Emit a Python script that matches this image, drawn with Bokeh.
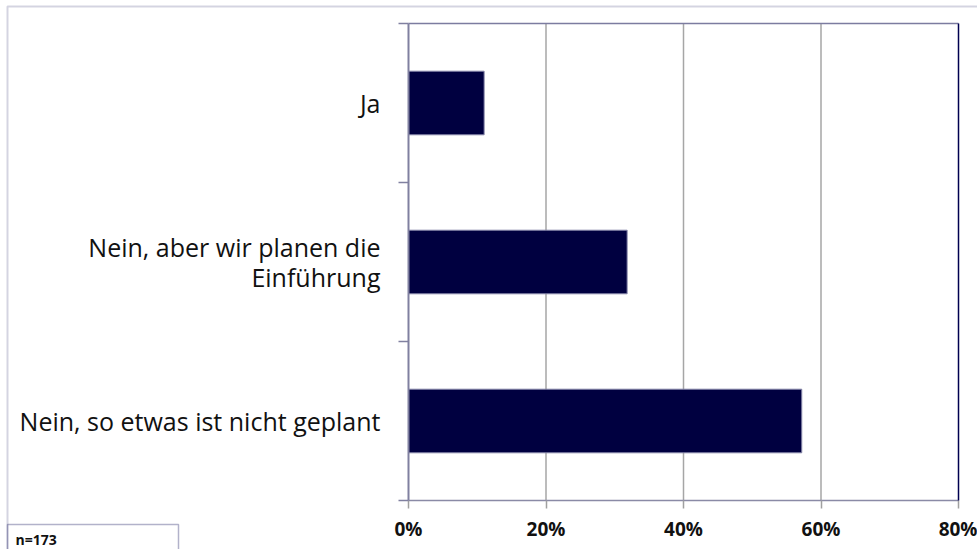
from bokeh.plotting import figure
from bokeh.models import (FixedTicker, LinearAxis, BoxAnnotation, Label,
                          ColumnDataSource, Range1d)
from bokeh.embed import file_html
from bokeh.resources import INLINE

# Data (bottom to top)
categories = ["Nein, so etwas ist nicht geplant",
              "Nein, aber wir planen die\nEinführung",
              "Ja"]
shares = [57.2, 31.8, 11.0]
x_ticks = [0, 20, 40, 60, 80]
x_tick_labels = ["0%", "20%", "40%", "60%", "80%"]
sample_note = "n=173"

# ---- layout (pixels on the canvas) ----
W, H = 977, 549
PLOT_L, PLOT_R, PLOT_T, PLOT_B = 408, 958, 23, 500
x_min, x_max = x_ticks[0], x_ticks[-1]
n_cat = len(categories)
px_x = (PLOT_R - PLOT_L) / (x_max - x_min)
px_y = (PLOT_B - PLOT_T) / n_cat

pos = [i + 0.5 for i in range(n_cat)]
src = ColumnDataSource(dict(cat=categories, share=shares, pos=pos))
grid_x = x_ticks[1:-1]
grid_src = ColumnDataSource(dict(x=grid_x, y0=[0] * len(grid_x),
                                 y1=[n_cat] * len(grid_x)))

p = figure(width=W, height=H, output_backend="svg", toolbar_location=None,
           x_range=Range1d(x_min - PLOT_L / px_x, x_max + (W - PLOT_R) / px_x),
           y_range=Range1d(-(H - PLOT_B) / px_y, n_cat + PLOT_T / px_y),
           min_border=0)
p.outline_line_color = None
p.background_fill_color = "white"
p.border_fill_color = "white"
p.xgrid.visible = False
p.ygrid.visible = False

# vertical gridlines (behind bars)
p.segment(x0="x", y0="y0", x1="x", y1="y1", source=grid_src,
          line_color="#a6a6a6", line_width=1.5)

p.hbar(y="pos", left=0, right="share", height=0.4, source=src,
       fill_color="#000040", line_color="#8585a8", line_width=1)

# x axis
xa = p.xaxis[0]
xa.fixed_location = 0
xa.bounds = (x_min, x_max)
xa.ticker = FixedTicker(ticks=x_ticks)
xa.major_label_overrides = {t: l for t, l in zip(x_ticks, x_tick_labels)}
xa.major_label_text_font = "Open Sans"
xa.major_label_text_font_style = "bold"
xa.major_label_text_font_size = "19px"
xa.major_label_text_color = "#111111"
xa.major_label_standoff = 7
xa.axis_line_color = "#8a8aa6"
xa.axis_line_width = 1.5
xa.major_tick_line_color = "#a0a0a0"
xa.major_tick_line_width = 1.5
xa.major_tick_out = 8
xa.major_tick_in = 0
xa.minor_tick_line_color = None

# y axis: labels at category centres, tick marks at category boundaries
ya = p.yaxis[0]
ya.fixed_location = 0
ya.bounds = (0, n_cat)
ya.ticker = FixedTicker(ticks=pos, minor_ticks=list(range(n_cat + 1)))
ya.major_label_overrides = {y: c for y, c in zip(pos, categories)}
ya.major_label_text_font = "Open Sans"
ya.major_label_text_font_size = "25px"
ya.major_label_text_color = "#111111"
ya.major_label_text_line_height = 0.9
ya.major_label_standoff = 18
ya.major_tick_line_color = None
ya.major_tick_out = 0
ya.major_tick_in = 0
ya.minor_tick_line_color = "#8080a0"
ya.minor_tick_line_width = 1.5
ya.minor_tick_out = 10
ya.minor_tick_in = 0
ya.axis_line_color = "#8080a0"
ya.axis_line_width = 2

# top and right edges of the plot area
top_axis = LinearAxis(fixed_location=n_cat, bounds=(x_min, x_max),
                      ticker=FixedTicker(ticks=[]), major_label_text_font_size="0px",
                      axis_line_color="#7c7ca0", axis_line_width=1.5,
                      major_tick_line_color=None, minor_tick_line_color=None)
p.add_layout(top_axis, "above")
right_axis = LinearAxis(fixed_location=x_max, bounds=(0, n_cat),
                        ticker=FixedTicker(ticks=[]), major_label_text_font_size="0px",
                        axis_line_color="#000050", axis_line_width=1.5,
                        major_tick_line_color=None, minor_tick_line_color=None)
p.add_layout(right_axis, "right")

# outer frame of the whole chart and note box
p.add_layout(BoxAnnotation(left=7, right=W + 50, top=6, bottom=H + 50,
                           left_units="canvas", right_units="canvas",
                           top_units="canvas", bottom_units="canvas",
                           fill_alpha=0, line_color="#6f6f9c", line_width=2))
p.add_layout(BoxAnnotation(left=7, right=178, top=524, bottom=H + 50,
                           left_units="canvas", right_units="canvas",
                           top_units="canvas", bottom_units="canvas",
                           fill_alpha=0, line_color="#000050", line_width=1.5))
p.add_layout(Label(x=15, y=539, x_units="canvas", y_units="canvas",
                   text=sample_note, text_font="Open Sans",
                   text_font_style="bold", text_font_size="14px",
                   text_baseline="middle", text_color="#111111"))

open("out.html", "w").write(file_html(p, INLINE))
